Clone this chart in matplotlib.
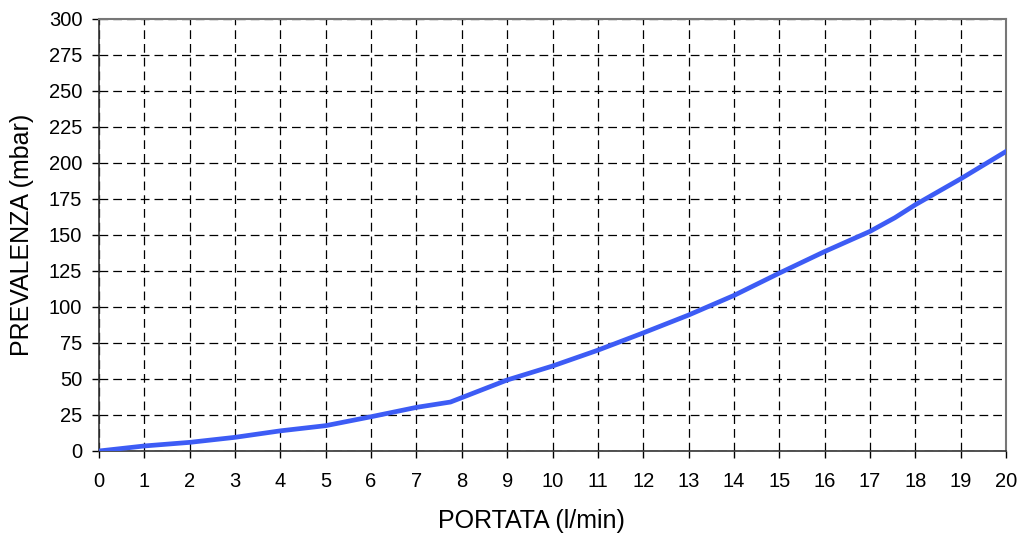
import matplotlib
matplotlib.use("Agg")
import matplotlib.pyplot as plt

# curve
portata = [0, 1, 2, 3, 4, 5, 6, 7, 7.75, 9, 10, 11, 12, 13, 14, 15, 16, 17, 17.55, 18, 19, 20]
prevalenza = [0, 3.5, 6, 9.5, 14, 17.6, 23.8, 30.3, 34, 49.3, 59, 70, 82, 94.4, 108, 123.5, 138.5, 152.5, 162, 171, 189, 208]

x_ticks = list(range(0, 21))
y_ticks = list(range(0, 301, 25))

plt.rcParams["font.family"] = ["Liberation Sans", "DejaVu Sans"]

fig = plt.figure(figsize=(10.22, 5.33), dpi=100)
ax = fig.add_axes([99 / 1022, 82 / 533, 907 / 1022, 432 / 533])

ax.plot(portata, prevalenza, color="#3d5cf5", linewidth=3.4, solid_joinstyle="round", zorder=3)

ax.set_xlim(0, 20)
ax.set_ylim(0, 300)
ax.set_xticks(x_ticks)
ax.set_yticks(y_ticks)
ax.grid(True, color="black", linestyle=(0, (7, 4)), linewidth=0.9)
ax.tick_params(direction="out", length=5, width=1, labelsize=14.5)
ax.tick_params(axis="x", pad=10)
ax.tick_params(axis="y", pad=7)

for side in ["left", "bottom"]:
    ax.spines[side].set_color("#333333")
    ax.spines[side].set_linewidth(1.2)
for side in ["top", "right"]:
    ax.spines[side].set_color("#777777")
    ax.spines[side].set_linewidth(1.5)

ax.set_xlabel("PORTATA (l/min)", fontsize=18, labelpad=12)
ax.xaxis.set_label_coords(0.477, -0.135)
ax.set_ylabel("PREVALENZA (mbar)", fontsize=18, labelpad=11)

fig.savefig("out.png", dpi=100)
